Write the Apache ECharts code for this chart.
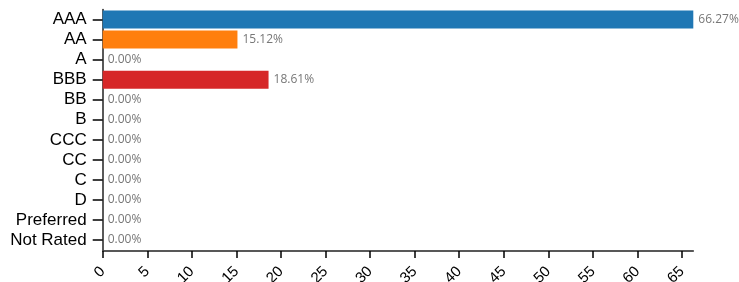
<!DOCTYPE html>
<html>
<head>
<meta charset="utf-8">
<script src="https://cdn.jsdelivr.net/npm/echarts@6/dist/echarts.min.js"></script>
<style>
  html, body { margin: 0; padding: 0; background: #fff; }
  #chart { width: 739px; height: 282px; }
</style>
</head>
<body>
<div id="chart"></div>
<script>
// 评级分布数据
const ratings = ['AAA', 'AA', 'A', 'BBB', 'BB', 'B', 'CCC', 'CC', 'C', 'D', 'Preferred', 'Not Rated'];
const shares = [66.27, 15.12, 0, 18.61, 0, 0, 0, 0, 0, 0, 0, 0];
const palette = ['#1f77b4', '#ff7f0e', '#2ca02c', '#d62728', '#9467bd', '#8c564b',
                 '#e377c2', '#7f7f7f', '#bcbd22', '#17becf', '#1f77b4', '#ff7f0e'];
const xMax = 66.27;

const myChart = echarts.init(document.getElementById('chart'));

myChart.setOption({
    animation: false,
    grid: {
        left: 102.7,
        width: 590.6,
        top: 9.5,
        height: 240.6,
        containLabel: false,
        outerBoundsMode: 'none'
    },
    xAxis: {
        type: 'value',
        min: 0,
        max: xMax,
        interval: 5,
        offset: 1,
        splitLine: { show: false },
        axisLine: { show: true, lineStyle: { color: '#222', width: 1.5 } },
        axisTick: { show: true, length: 7, lineStyle: { color: '#000', width: 1.5 } },
        axisLabel: {
            rotate: 45,
            margin: 18,
            fontSize: 15,
            color: '#000',
            fontFamily: 'Liberation Sans',
            showMaxLabel: false
        }
    },
    yAxis: {
        type: 'category',
        inverse: true,
        data: ratings,
        axisLine: { show: true, lineStyle: { color: '#222', width: 1.5 } },
        axisTick: { show: true, interval: 0, alignWithLabel: true, length: 10, lineStyle: { color: '#000', width: 1.5 } },
        axisLabel: {
            interval: 0,
            margin: 16,
            fontSize: 17,
            color: '#000',
            fontFamily: 'Liberation Sans'
        }
    },
    series: [{
        type: 'bar',
        barWidth: 18,
        data: shares.map((v, i) => ({ value: v, itemStyle: { color: palette[i] } })),
        label: {
            show: true,
            position: 'right',
            distance: 5,
            fontSize: 12,
            color: '#777',
            fontFamily: 'Open Sans',
            formatter: (p) => p.value.toFixed(2) + '%'
        }
    }]
});
</script>
</body>
</html>
